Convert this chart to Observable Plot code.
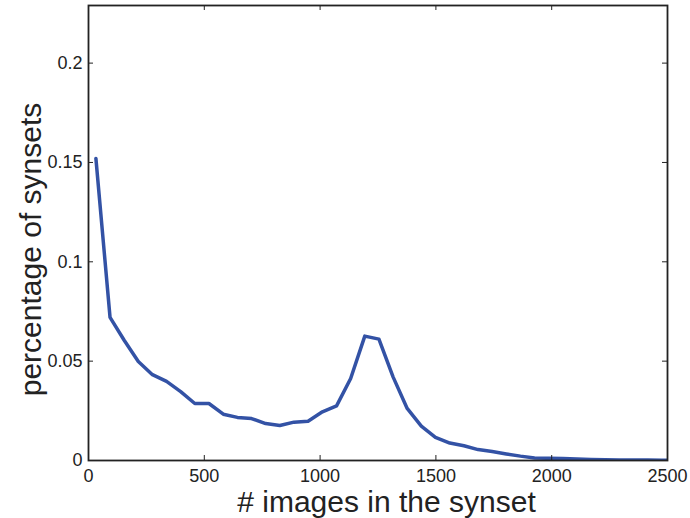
<!DOCTYPE html>
<html><head><meta charset="utf-8">
<script src="https://cdn.jsdelivr.net/npm/d3@7"></script>
<script src="https://cdn.jsdelivr.net/npm/@observablehq/plot@0.6"></script>
<style>body{margin:0;background:#fff}</style>
</head><body><div id="chart"></div>
<script>
const imageCounts = [32, 93, 154, 215, 276, 337, 398, 459, 520, 582, 643, 704, 765, 826, 887, 948, 1010, 1071, 1132, 1193, 1254, 1315, 1376, 1437, 1498, 1560, 1621, 1682, 1743, 1804, 1865, 1926, 1987, 2048, 2109, 2170, 2231, 2292, 2354, 2415, 2476, 2537];
const synsetShare = [0.152, 0.072, 0.0605, 0.0498, 0.0432, 0.0398, 0.0347, 0.0287, 0.0287, 0.0233, 0.0217, 0.0211, 0.0186, 0.0176, 0.0193, 0.0198, 0.0245, 0.0275, 0.0413, 0.0626, 0.0611, 0.0421, 0.0262, 0.0173, 0.0117, 0.0088, 0.0074, 0.0055, 0.0045, 0.0033, 0.0022, 0.0013, 0.0011, 0.0010, 0.0007, 0.0005, 0.0004, 0.0003, 0.0002, 0.0002, 0.0001, 0.0001];
const xTicks = [0, 500, 1000, 1500, 2000, 2500];
const xTickLabels = ["0", "500", "1000", "1500", "2000", "2500"];
const yTicks = [0, 0.05, 0.1, 0.15, 0.2];
const yTickLabels = ["0", "0.05", "0.1", "0.15", "0.2"];
const xLabel = "# images in the synset";
const yLabel = "percentage of synsets";

const W = 690, H = 518, mL = 88, mR = 23, mT = 5, mB = 58;
const innerH = H - mT - mB, innerW = W - mL - mR;
const tick = 5;
const data = imageCounts.map((x, i) => ({x, y: synsetShare[i]}));
const font = "'Liberation Sans', Arial, Helvetica, sans-serif";
const ink = "#222";

const chart = Plot.plot({
  width: W, height: H,
  marginLeft: mL, marginRight: mR, marginTop: mT, marginBottom: mB,
  style: {fontFamily: font, color: ink, background: "#fff", fontSize: "18px"},
  x: {domain: [0, 2500]},
  y: {domain: [0, 0.229]},
  marks: [
    Plot.line(data, {x: "x", y: "y", stroke: "#3352a5", strokeWidth: 3.5, clip: true, strokeLinejoin: "round"}),
    Plot.tickX(xTicks, {x: d => d, insetTop: innerH - tick, stroke: ink}),
    Plot.tickX(xTicks, {x: d => d, insetBottom: innerH - tick, stroke: ink}),
    Plot.tickY(yTicks, {y: d => d, insetRight: innerW - tick, stroke: ink}),
    Plot.tickY(yTicks, {y: d => d, insetLeft: innerW - tick, stroke: ink}),
    Plot.frame({stroke: ink, strokeWidth: 1.8}),
    Plot.axisX(xTicks, {tickSize: 0, tickPadding: 9, fontSize: 18, tickFormat: d => xTickLabels[xTicks.indexOf(d)], label: null}),
    Plot.axisY(yTicks, {tickSize: 0, tickPadding: 6, fontSize: 18, tickFormat: d => yTickLabels[yTicks.indexOf(d)], label: null}),
    Plot.text([xLabel], {text: d => d, frameAnchor: "bottom", textAnchor: "middle", dx: 8.5, dy: 51, fontSize: 30, lineAnchor: "bottom", fill: ink}),
    Plot.text([yLabel], {text: d => d, frameAnchor: "left", textAnchor: "middle", rotate: -90, dx: -48, dy: 16.5, fontSize: 30, lineAnchor: "bottom", fill: ink})
  ]
});
document.getElementById("chart").appendChild(chart);
</script>
</body></html>
